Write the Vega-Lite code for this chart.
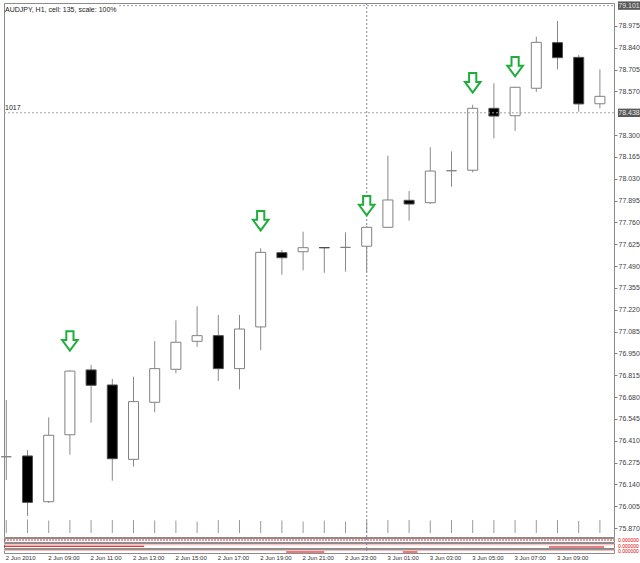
{
  "$schema": "https://vega.github.io/schema/vega-lite/v6.json",
  "padding": {"left": 0, "top": 0, "right": 0, "bottom": 0},
  "background": "white",
  "spacing": 1,
  "bounds": "flush",
  "config": {
    "view": {"stroke": "#8c8c8c"},
    "font": "Liberation Sans",
    "scale": {"continuousPadding": 0},
    "axisY": {"labelFontSize": 7, "labelColor": "#404040", "labelFont": "Liberation Sans", "tickSize": 3, "tickColor": "#808080", "domain": false, "grid": false, "labelPadding": 1, "labelFlush": false, "labelOverlap": false, "labelBound": false}
  },
  "resolve": {"scale": {"x": "shared", "y": "independent"}},
  "datasets": {
    "candles": [
      {"t":"2010-06-02T07:00:00","o":76.311,"h":76.662,"l":76.167,"c":76.311,"v":1300},
      {"t":"2010-06-02T08:00:00","o":76.316,"h":76.353,"l":75.945,"c":76.029,"v":1350},
      {"t":"2010-06-02T09:00:00","o":76.033,"h":76.555,"l":76.025,"c":76.444,"v":1250},
      {"t":"2010-06-02T10:00:00","o":76.447,"h":76.845,"l":76.324,"c":76.841,"v":1300},
      {"t":"2010-06-02T11:00:00","o":76.848,"h":76.879,"l":76.522,"c":76.753,"v":1300},
      {"t":"2010-06-02T12:00:00","o":76.755,"h":76.792,"l":76.163,"c":76.299,"v":1300},
      {"t":"2010-06-02T13:00:00","o":76.295,"h":76.806,"l":76.250,"c":76.652,"v":1300},
      {"t":"2010-06-02T14:00:00","o":76.648,"h":77.027,"l":76.586,"c":76.856,"v":1250},
      {"t":"2010-06-02T15:00:00","o":76.852,"h":77.155,"l":76.827,"c":77.019,"v":1250},
      {"t":"2010-06-02T16:00:00","o":77.025,"h":77.242,"l":76.990,"c":77.060,"v":1150},
      {"t":"2010-06-02T17:00:00","o":77.060,"h":77.188,"l":76.780,"c":76.856,"v":1300},
      {"t":"2010-06-02T18:00:00","o":76.856,"h":77.188,"l":76.728,"c":77.101,"v":1300},
      {"t":"2010-06-02T19:00:00","o":77.114,"h":77.600,"l":76.971,"c":77.575,"v":1200},
      {"t":"2010-06-02T20:00:00","o":77.573,"h":77.590,"l":77.437,"c":77.542,"v":1250},
      {"t":"2010-06-02T21:00:00","o":77.579,"h":77.703,"l":77.464,"c":77.604,"v":1150},
      {"t":"2010-06-02T22:00:00","o":77.605,"h":77.606,"l":77.449,"c":77.603,"v":1250},
      {"t":"2010-06-02T23:00:00","o":77.606,"h":77.699,"l":77.456,"c":77.606,"v":1150},
      {"t":"2010-06-03T00:00:00","o":77.613,"h":77.738,"l":77.452,"c":77.730,"v":1250},
      {"t":"2010-06-03T01:00:00","o":77.730,"h":78.173,"l":77.726,"c":77.899,"v":1300},
      {"t":"2010-06-03T02:00:00","o":77.897,"h":77.955,"l":77.771,"c":77.874,"v":1300},
      {"t":"2010-06-03T03:00:00","o":77.882,"h":78.225,"l":77.874,"c":78.078,"v":1250},
      {"t":"2010-06-03T04:00:00","o":78.080,"h":78.200,"l":77.981,"c":78.080,"v":1300},
      {"t":"2010-06-03T05:00:00","o":78.083,"h":78.488,"l":78.070,"c":78.466,"v":1300},
      {"t":"2010-06-03T06:00:00","o":78.466,"h":78.621,"l":78.280,"c":78.418,"v":1300},
      {"t":"2010-06-03T07:00:00","o":78.420,"h":78.598,"l":78.326,"c":78.596,"v":1300},
      {"t":"2010-06-03T08:00:00","o":78.590,"h":78.909,"l":78.567,"c":78.874,"v":1300},
      {"t":"2010-06-03T09:00:00","o":78.872,"h":79.006,"l":78.707,"c":78.779,"v":1300},
      {"t":"2010-06-03T10:00:00","o":78.781,"h":78.796,"l":78.445,"c":78.493,"v":1200},
      {"t":"2010-06-03T11:00:00","o":78.494,"h":78.707,"l":78.466,"c":78.540,"v":1300}
    ],
    "arrows": [
      {"t":"2010-06-02T10:00:00","p":77.027},
      {"t":"2010-06-02T19:00:00","p":77.770},
      {"t":"2010-06-03T00:00:00","p":77.863},
      {"t":"2010-06-03T05:00:00","p":78.623},
      {"t":"2010-06-03T07:00:00","p":78.723}
    ],
    "prices": [
      {"p":79.101,"lab":"79.101"},
      {"p":78.438,"lab":"78.438"}
    ],
    "ind": [
      {"s":"a","seg":"a1","k":"red","t":"2010-06-02T06:53:29","y":0.5},
      {"s":"a","seg":"a1","k":"red","t":"2010-06-03T11:39:54","y":0.5},
      {"s":"b","seg":"b1","k":"pink","t":"2010-06-02T06:53:29","y":0.65},
      {"s":"b","seg":"b1","k":"pink","t":"2010-06-03T11:39:54","y":0.65},
      {"s":"b","seg":"b2","k":"dark","t":"2010-06-02T06:53:29","y":0.35},
      {"s":"b","seg":"b2","k":"dark","t":"2010-06-02T13:30:00","y":0.35},
      {"s":"b","seg":"b3","k":"dark","t":"2010-06-03T08:36:00","y":0.2},
      {"s":"b","seg":"b3","k":"dark","t":"2010-06-03T11:12:00","y":0.2},
      {"s":"c","seg":"c1","k":"pink","t":"2010-06-02T06:53:29","y":0.65},
      {"s":"c","seg":"c1","k":"pink","t":"2010-06-03T11:39:54","y":0.65},
      {"s":"c","seg":"c2","k":"dark","t":"2010-06-02T20:12:00","y":0.25},
      {"s":"c","seg":"c2","k":"dark","t":"2010-06-02T22:00:00","y":0.25},
      {"s":"c","seg":"c3","k":"dark","t":"2010-06-03T01:42:00","y":0.25},
      {"s":"c","seg":"c3","k":"dark","t":"2010-06-03T02:24:00","y":0.25}
    ]
  },
  "vconcat": [
    {
      "width": 610,
      "height": 534,
      "resolve": {"scale": {"y": "independent"}, "axis": {"y": "independent"}},
      "layer": [
        {
          "data": {"name": "candles"},
          "mark": {"type": "rule", "color": "#9a9a9a", "strokeWidth": 1},
          "encoding": {
            "x": {"field": "t", "type": "temporal", "axis": null, "scale": {"nice": false, "padding": 0, "domain": [{"year":2010,"month":6,"date":2,"hours":6,"minutes":53,"seconds":29},{"year":2010,"month":6,"date":3,"hours":11,"minutes":39,"seconds":54}]}},
            "y": {"field": "v", "type": "quantitative", "axis": null, "scale": {"domain": [-400, 53000], "nice": false, "zero": false, "padding": 0}},
            "y2": {"datum": 0}
          }
        },
        {
          "layer": [
            {
              "data": {"values": [{}]},
              "mark": {"type": "rule", "color": "#8080a0", "strokeDash": [2, 2], "strokeWidth": 1},
              "encoding": {
                "x": {"datum": {"year":2010,"month":6,"date":3,"hours":0}, "type": "temporal", "axis": null, "scale": {"nice": false, "padding": 0, "domain": [{"year":2010,"month":6,"date":2,"hours":6,"minutes":53,"seconds":29},{"year":2010,"month":6,"date":3,"hours":11,"minutes":39,"seconds":54}]}}
              }
            },
            {
              "data": {"name": "candles"},
              "mark": {"type": "rule", "color": "#8a8a8a", "strokeWidth": 1},
              "encoding": {
                "x": {"field": "t", "type": "temporal", "axis": null, "scale": {"nice": false, "padding": 0, "domain": [{"year":2010,"month":6,"date":2,"hours":6,"minutes":53,"seconds":29},{"year":2010,"month":6,"date":3,"hours":11,"minutes":39,"seconds":54}]}},
                "y": {"field": "l", "type": "quantitative", "title": null, "scale": {"domain": [75.8148, 79.1172], "nice": false, "zero": false, "padding": 0},
                  "axis": {"orient": "right", "format": ".3f", "values": [75.870,76.005,76.140,76.275,76.410,76.545,76.680,76.815,76.950,77.085,77.220,77.355,77.490,77.625,77.760,77.895,78.030,78.165,78.300,78.570,78.705,78.840,78.975]}},
                "y2": {"field": "h"}
              }
            },
            {
              "data": {"name": "candles"},
              "mark": {"type": "bar", "size": 10, "strokeWidth": 1},
              "encoding": {
                "x": {"field": "t", "type": "temporal", "axis": null, "scale": {"nice": false, "padding": 0, "domain": [{"year":2010,"month":6,"date":2,"hours":6,"minutes":53,"seconds":29},{"year":2010,"month":6,"date":3,"hours":11,"minutes":39,"seconds":54}]}},
                "y": {"field": "o", "type": "quantitative", "title": null, "scale": {"domain": [75.8148, 79.1172], "nice": false, "zero": false, "padding": 0},
                  "axis": {"orient": "right", "format": ".3f", "values": [75.870,76.005,76.140,76.275,76.410,76.545,76.680,76.815,76.950,77.085,77.220,77.355,77.490,77.625,77.760,77.895,78.030,78.165,78.300,78.570,78.705,78.840,78.975]}},
                "y2": {"field": "c"},
                "fill": {"condition": {"test": "datum.c < datum.o", "value": "#000000"}, "value": "#ffffff"},
                "stroke": {"condition": {"test": "datum.c < datum.o", "value": "#505050"}, "value": "#808080"}
              }
            },
            {
              "data": {"values": [{}]},
              "mark": {"type": "rule", "color": "#a0a0a0", "strokeDash": [2, 2], "strokeWidth": 1},
              "encoding": {
                "y": {"datum": 78.438, "type": "quantitative", "title": null, "scale": {"domain": [75.8148, 79.1172], "nice": false, "zero": false, "padding": 0},
                  "axis": {"orient": "right", "format": ".3f", "values": [75.870,76.005,76.140,76.275,76.410,76.545,76.680,76.815,76.950,77.085,77.220,77.355,77.490,77.625,77.760,77.895,78.030,78.165,78.300,78.570,78.705,78.840,78.975]}}
              }
            },
            {
              "data": {"values": [{}]},
              "mark": {"type": "rule", "color": "#a0a0a0", "strokeDash": [2, 2], "strokeWidth": 1},
              "encoding": {
                "y": {"datum": 79.101, "type": "quantitative", "title": null, "scale": {"domain": [75.8148, 79.1172], "nice": false, "zero": false, "padding": 0},
                  "axis": {"orient": "right", "format": ".3f", "values": [75.870,76.005,76.140,76.275,76.410,76.545,76.680,76.815,76.950,77.085,77.220,77.355,77.490,77.625,77.760,77.895,78.030,78.165,78.300,78.570,78.705,78.840,78.975]}},
                "x": {"datum": {"year":2010,"month":6,"date":2,"hours":12,"minutes":19}, "type": "temporal", "axis": null, "scale": {"nice": false, "padding": 0, "domain": [{"year":2010,"month":6,"date":2,"hours":6,"minutes":53,"seconds":29},{"year":2010,"month":6,"date":3,"hours":11,"minutes":39,"seconds":54}]}},
                "x2": {"datum": {"year":2010,"month":6,"date":3,"hours":11,"minutes":39,"seconds":54}}
              }
            },
            {
              "data": {"name": "arrows"},
              "mark": {"type": "point", "shape": "M-0.36,-0.98 L0.36,-0.98 L0.36,-0.1 L0.78,-0.1 L0,0.96 L-0.78,-0.1 L-0.36,-0.1 Z", "size": 400, "filled": true, "fill": "#ffffff", "stroke": "#1fae3b", "strokeWidth": 2, "opacity": 1},
              "encoding": {
                "x": {"field": "t", "type": "temporal", "axis": null, "scale": {"nice": false, "padding": 0, "domain": [{"year":2010,"month":6,"date":2,"hours":6,"minutes":53,"seconds":29},{"year":2010,"month":6,"date":3,"hours":11,"minutes":39,"seconds":54}]}},
                "y": {"field": "p", "type": "quantitative", "title": null, "scale": {"domain": [75.8148, 79.1172], "nice": false, "zero": false, "padding": 0},
                  "axis": {"orient": "right", "format": ".3f", "values": [75.870,76.005,76.140,76.275,76.410,76.545,76.680,76.815,76.950,77.085,77.220,77.355,77.490,77.625,77.760,77.895,78.030,78.165,78.300,78.570,78.705,78.840,78.975]}}
              }
            },
            {
              "data": {"name": "prices"},
              "mark": {"type": "point", "shape": "M-1.1,-0.42 L1.1,-0.42 L1.1,0.42 L-1.1,0.42 Z", "size": 400, "filled": true, "fill": "#5a5a5a", "strokeWidth": 0, "opacity": 1, "xOffset": 15},
              "encoding": {
                "x": {"datum": {"year":2010,"month":6,"date":3,"hours":11,"minutes":39,"seconds":54}, "type": "temporal", "axis": null, "scale": {"nice": false, "padding": 0, "domain": [{"year":2010,"month":6,"date":2,"hours":6,"minutes":53,"seconds":29},{"year":2010,"month":6,"date":3,"hours":11,"minutes":39,"seconds":54}]}},
                "y": {"field": "p", "type": "quantitative", "title": null, "scale": {"domain": [75.8148, 79.1172], "nice": false, "zero": false, "padding": 0},
                  "axis": {"orient": "right", "format": ".3f", "values": [75.870,76.005,76.140,76.275,76.410,76.545,76.680,76.815,76.950,77.085,77.220,77.355,77.490,77.625,77.760,77.895,78.030,78.165,78.300,78.570,78.705,78.840,78.975]}}
              }
            },
            {
              "data": {"name": "prices"},
              "mark": {"type": "text", "fontSize": 7, "font": "Liberation Sans", "color": "#e8e8e8", "align": "center", "baseline": "middle", "xOffset": 15},
              "encoding": {
                "x": {"datum": {"year":2010,"month":6,"date":3,"hours":11,"minutes":39,"seconds":54}, "type": "temporal", "axis": null, "scale": {"nice": false, "padding": 0, "domain": [{"year":2010,"month":6,"date":2,"hours":6,"minutes":53,"seconds":29},{"year":2010,"month":6,"date":3,"hours":11,"minutes":39,"seconds":54}]}},
                "y": {"field": "p", "type": "quantitative", "title": null, "scale": {"domain": [75.8148, 79.1172], "nice": false, "zero": false, "padding": 0},
                  "axis": {"orient": "right", "format": ".3f", "values": [75.870,76.005,76.140,76.275,76.410,76.545,76.680,76.815,76.950,77.085,77.220,77.355,77.490,77.625,77.760,77.895,78.030,78.165,78.300,78.570,78.705,78.840,78.975]}},
                "text": {"field": "lab"}
              }
            },
            {
              "data": {"values": [{"label": "AUDJPY, H1, cell: 135, scale: 100%"}]},
              "mark": {"type": "text", "fontSize": 7, "font": "Liberation Sans", "color": "#202020", "align": "left", "baseline": "top", "dx": 1, "dy": 3},
              "encoding": {
                "x": {"datum": {"year":2010,"month":6,"date":2,"hours":6,"minutes":53,"seconds":29}, "type": "temporal", "axis": null, "scale": {"nice": false, "padding": 0, "domain": [{"year":2010,"month":6,"date":2,"hours":6,"minutes":53,"seconds":29},{"year":2010,"month":6,"date":3,"hours":11,"minutes":39,"seconds":54}]}},
                "y": {"datum": 79.1172, "type": "quantitative", "title": null, "scale": {"domain": [75.8148, 79.1172], "nice": false, "zero": false, "padding": 0},
                  "axis": {"orient": "right", "format": ".3f", "values": [75.870,76.005,76.140,76.275,76.410,76.545,76.680,76.815,76.950,77.085,77.220,77.355,77.490,77.625,77.760,77.895,78.030,78.165,78.300,78.570,78.705,78.840,78.975]}},
                "text": {"field": "label"}
              }
            },
            {
              "data": {"values": [{"label": "1017"}]},
              "mark": {"type": "text", "fontSize": 7, "font": "Liberation Sans", "color": "#202020", "align": "left", "baseline": "bottom", "dx": 1, "dy": -2},
              "encoding": {
                "x": {"datum": {"year":2010,"month":6,"date":2,"hours":6,"minutes":53,"seconds":29}, "type": "temporal", "axis": null, "scale": {"nice": false, "padding": 0, "domain": [{"year":2010,"month":6,"date":2,"hours":6,"minutes":53,"seconds":29},{"year":2010,"month":6,"date":3,"hours":11,"minutes":39,"seconds":54}]}},
                "y": {"datum": 78.438, "type": "quantitative", "title": null, "scale": {"domain": [75.8148, 79.1172], "nice": false, "zero": false, "padding": 0},
                  "axis": {"orient": "right", "format": ".3f", "values": [75.870,76.005,76.140,76.275,76.410,76.545,76.680,76.815,76.950,77.085,77.220,77.355,77.490,77.625,77.760,77.895,78.030,78.165,78.300,78.570,78.705,78.840,78.975]}},
                "text": {"field": "label"}
              }
            }
          ]
        }
      ]
    },
    {
      "width": 610,
      "height": 4,
      "layer": [
        {
          "data": {"name": "ind"},
          "transform": [{"filter": "datum.s == 'a'"}],
          "mark": {"type": "line", "color": "#f02020", "strokeDash": [2, 1], "strokeWidth": 1},
          "encoding": {
            "x": {"field": "t", "type": "temporal", "axis": null, "scale": {"nice": false, "padding": 0, "domain": [{"year":2010,"month":6,"date":2,"hours":6,"minutes":53,"seconds":29},{"year":2010,"month":6,"date":3,"hours":11,"minutes":39,"seconds":54}]}},
            "y": {"field": "y", "type": "quantitative", "axis": null, "scale": {"domain": [0, 1], "nice": false}},
            "detail": {"field": "seg"}
          }
        },
        {
          "data": {"values": [{"label": "0.000000"}]},
          "mark": {"type": "text", "fontSize": 5, "color": "#e00000", "align": "left", "baseline": "middle", "dx": 4},
          "encoding": {
            "x": {"datum": {"year":2010,"month":6,"date":3,"hours":11,"minutes":39,"seconds":54}, "type": "temporal"},
            "y": {"datum": 0.5, "type": "quantitative"},
            "text": {"field": "label"}
          }
        },
        {
          "data": {"values": [{}]},
          "mark": {"type": "rule", "color": "#8080a0", "strokeDash": [2, 2]},
          "encoding": {"x": {"datum": {"year":2010,"month":6,"date":3,"hours":0}, "type": "temporal"}}
        }
      ]
    },
    {
      "width": 610,
      "height": 5,
      "layer": [
        {
          "data": {"name": "ind"},
          "transform": [{"filter": "datum.s == 'b'"}],
          "mark": {"type": "line", "strokeWidth": 1},
          "encoding": {
            "x": {"field": "t", "type": "temporal", "axis": null, "scale": {"nice": false, "padding": 0, "domain": [{"year":2010,"month":6,"date":2,"hours":6,"minutes":53,"seconds":29},{"year":2010,"month":6,"date":3,"hours":11,"minutes":39,"seconds":54}]}},
            "y": {"field": "y", "type": "quantitative", "axis": null, "scale": {"domain": [0, 1], "nice": false}},
            "color": {"field": "k", "type": "nominal", "legend": null, "scale": {"domain": ["red", "pink", "dark"], "range": ["#f02020", "#ffb0b0", "#c00000"]}},
            "detail": {"field": "seg"}
          }
        },
        {
          "data": {"values": [{"label": "0.000000"}]},
          "mark": {"type": "text", "fontSize": 5, "color": "#e00000", "align": "left", "baseline": "middle", "dx": 4},
          "encoding": {
            "x": {"datum": {"year":2010,"month":6,"date":3,"hours":11,"minutes":39,"seconds":54}, "type": "temporal"},
            "y": {"datum": 0.5, "type": "quantitative"},
            "text": {"field": "label"}
          }
        },
        {
          "data": {"values": [{}]},
          "mark": {"type": "rule", "color": "#8080a0", "strokeDash": [2, 2]},
          "encoding": {"x": {"datum": {"year":2010,"month":6,"date":3,"hours":0}, "type": "temporal"}}
        }
      ]
    },
    {
      "width": 610,
      "height": 4,
      "layer": [
        {
          "data": {"name": "ind"},
          "transform": [{"filter": "datum.s == 'c'"}],
          "mark": {"type": "line", "strokeWidth": 1},
          "encoding": {
            "x": {"field": "t", "type": "temporal", "scale": {"nice": false, "padding": 0, "domain": [{"year":2010,"month":6,"date":2,"hours":6,"minutes":53,"seconds":29},{"year":2010,"month":6,"date":3,"hours":11,"minutes":39,"seconds":54}]},
              "axis": {"title": null, "values": [
                {"year":2010,"month":6,"date":2,"hours":7},{"year":2010,"month":6,"date":2,"hours":9},{"year":2010,"month":6,"date":2,"hours":11},{"year":2010,"month":6,"date":2,"hours":13},{"year":2010,"month":6,"date":2,"hours":15},{"year":2010,"month":6,"date":2,"hours":17},{"year":2010,"month":6,"date":2,"hours":19},{"year":2010,"month":6,"date":2,"hours":21},{"year":2010,"month":6,"date":2,"hours":23},
                {"year":2010,"month":6,"date":3,"hours":1},{"year":2010,"month":6,"date":3,"hours":3},{"year":2010,"month":6,"date":3,"hours":5},{"year":2010,"month":6,"date":3,"hours":7},{"year":2010,"month":6,"date":3,"hours":9}],
                "labelExpr": "date(datum.value) == 2 && hours(datum.value) == 7 ? '2 Jun 2010' : timeFormat(datum.value, '%-d %b %H:%M')",
                "labelFontSize": 6, "labelFont": "Liberation Sans", "labelColor": "#303030", "labelAlign": "left", "labelBaseline": "top", "labelPadding": 1, "labelOffset": -1,
                "ticks": false, "domain": false, "grid": false, "labelFlush": false, "labelOverlap": false, "labelBound": false}},
            "y": {"field": "y", "type": "quantitative", "axis": null, "scale": {"domain": [0, 1], "nice": false}},
            "color": {"field": "k", "type": "nominal", "legend": null, "scale": {"domain": ["red", "pink", "dark"], "range": ["#f02020", "#ffb0b0", "#c00000"]}},
            "detail": {"field": "seg"}
          }
        },
        {
          "data": {"values": [{"label": "0.000000"}]},
          "mark": {"type": "text", "fontSize": 5, "color": "#e00000", "align": "left", "baseline": "middle", "dx": 4},
          "encoding": {
            "x": {"datum": {"year":2010,"month":6,"date":3,"hours":11,"minutes":39,"seconds":54}, "type": "temporal"},
            "y": {"datum": 0.5, "type": "quantitative"},
            "text": {"field": "label"}
          }
        },
        {
          "data": {"values": [{}]},
          "mark": {"type": "rule", "color": "#8080a0", "strokeDash": [2, 2]},
          "encoding": {"x": {"datum": {"year":2010,"month":6,"date":3,"hours":0}, "type": "temporal"}}
        }
      ]
    }
  ]
}
